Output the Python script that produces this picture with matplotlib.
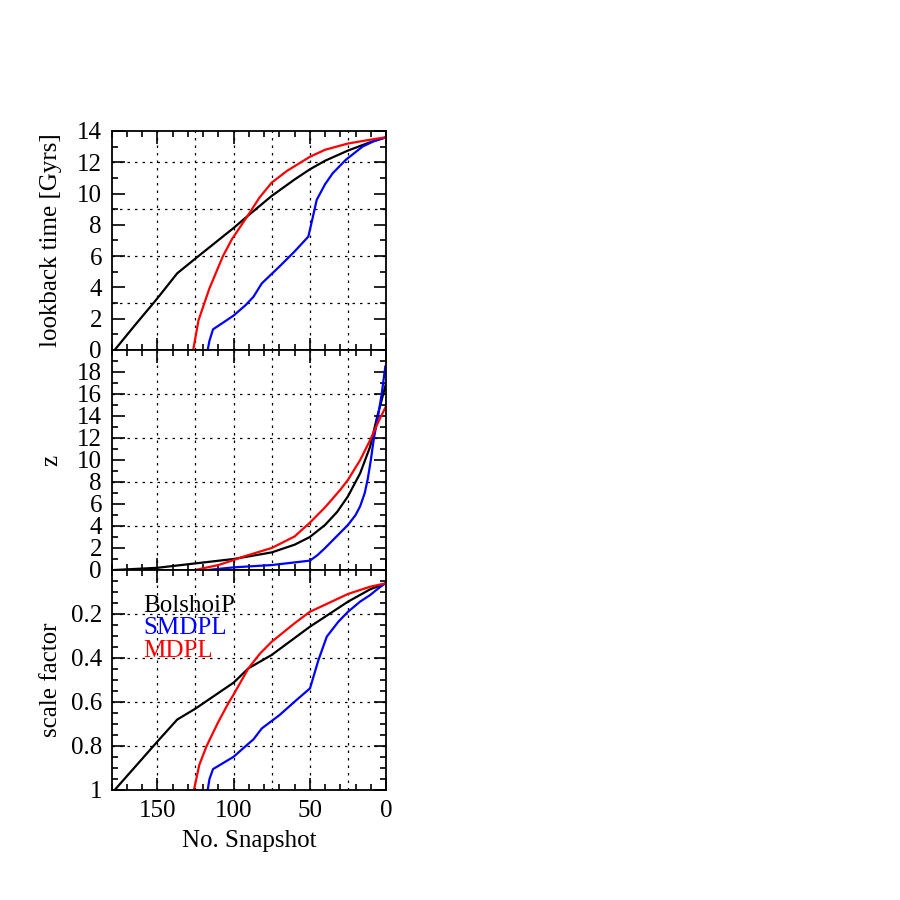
import numpy as np
import matplotlib
matplotlib.use('Agg')
import matplotlib.pyplot as plt
from matplotlib.ticker import MultipleLocator, FixedLocator, FuncFormatter

# ==================== Data ====================
# --- lookback time [Gyrs] vs snapshot number ---
bp_snap_t = [178, 165, 150, 137, 125, 100, 90.4, 75, 60, 50, 40, 25, 10, 0]
bp_tlb = [0, 1.55, 3.3, 4.9, 5.85, 7.8, 8.6, 9.85, 10.9, 11.55, 12.1, 12.75,
          13.3, 13.6]

smdpl_snap_t = [117, 115.8, 113.5, 100, 92, 87, 81.5, 70, 60, 51, 48.5, 45.5,
                40, 35, 26.5, 15.5, 8, 0]
smdpl_tlb = [0, 0.6, 1.32, 2.2, 2.88, 3.4, 4.26, 5.33, 6.3, 7.25, 8.3, 9.6,
             10.6, 11.3, 12.15, 13.0, 13.35, 13.6]

mdpl_snap_t = [126.5, 123, 116, 107, 101, 90.4, 83, 75, 65, 50, 40, 25, 10, 0]
mdpl_tlb = [0, 1.9, 3.9, 6.0, 7.1, 8.63, 9.75, 10.7, 11.45, 12.35, 12.8, 13.2,
            13.45, 13.6]

# --- redshift z vs snapshot number ---
bp_snap_z = [178, 150, 125, 100, 75, 60, 50, 40, 32, 25, 17, 10.5, 6.1, 3, 0]
bp_z = [0, 0.2, 0.6, 1.0, 1.6, 2.3, 3.0, 4.1, 5.3, 6.7, 8.8, 11.2, 13.8,
        15.4, 17.0]

smdpl_snap_z = [117, 100, 75, 50, 45, 40, 35, 30, 25, 20, 17, 14, 12, 10, 8,
                5.5, 3, 0.5]
smdpl_z = [0, 0.24, 0.45, 0.85, 1.35, 2.0, 2.7, 3.4, 4.1, 5.0, 5.8, 7.0, 8.3,
           10.0, 12.0, 13.8, 15.9, 18.5]

mdpl_snap_z = [125.3, 110, 100, 94, 75, 60, 50, 40, 30, 25, 17, 10.5, 5, 0]
mdpl_z = [0, 0.45, 0.9, 1.2, 2.0, 3.05, 4.3, 5.7, 7.3, 8.2, 10.0, 11.8, 13.5,
          14.9]

# --- scale factor vs snapshot number ---
bp_snap_a = [178, 165, 150, 137, 125, 100, 90.3, 75, 50, 25, 10.5, 0]
bp_a = [1.0, 0.898, 0.78, 0.68, 0.63, 0.512, 0.447, 0.386, 0.258, 0.144,
        0.088, 0.06]

smdpl_snap_a = [117, 115.8, 113.5, 100, 92, 87, 81.5, 70, 58.6, 49.9, 44.4,
                38.9, 31.3, 25, 17.1, 10.5, 5, 0]
smdpl_a = [1.0, 0.95, 0.905, 0.849, 0.80, 0.77, 0.72, 0.66, 0.59, 0.538,
           0.41, 0.303, 0.235, 0.19, 0.144, 0.114, 0.083, 0.058]

mdpl_snap_a = [126, 122.5, 117.7, 110, 103, 100, 90.3, 82.7, 75, 60, 50, 25,
               10.5, 0]
mdpl_a = [1.0, 0.886, 0.8, 0.69, 0.6, 0.566, 0.447, 0.38, 0.326, 0.242, 0.19,
          0.109, 0.076, 0.06]

SIM_NAMES = ['BolshoiP', 'SMDPL', 'MDPL']
SIM_COLORS = ['black', '#0000ff', '#ff0000']

plt.rcParams['font.family'] = ['Liberation Serif', 'DejaVu Serif']
plt.rcParams['font.size'] = 18


def style_axis(ax, ymajor, yminor, ygrid):
    ax.set_xlim(180, 0)
    ax.xaxis.set_major_locator(MultipleLocator(50))
    ax.xaxis.set_minor_locator(MultipleLocator(10))
    ax.yaxis.set_major_locator(MultipleLocator(ymajor))
    ax.yaxis.set_minor_locator(MultipleLocator(yminor))
    ax.tick_params(which='both', direction='in', top=True, right=True,
                   width=1.2, labelsize=18, pad=7)
    ax.tick_params(which='major', length=9)
    ax.tick_params(which='minor', length=4.5)
    for sp in ax.spines.values():
        sp.set_linewidth(1.3)
    for gx in [150, 125, 100, 75, 50, 25]:
        ax.axvline(gx, color='black', lw=0.9, ls=(0, (2, 4)), zorder=0)
    for gy in ygrid:
        ax.axhline(gy, color='black', lw=0.9, ls=(0, (2, 4)), zorder=0)


fig = plt.figure(figsize=(9, 9), dpi=100)
left, width = 0.124, 0.305
ax_t = fig.add_axes([left, 1 - 350 / 900, width, 219 / 900])
ax_z = fig.add_axes([left, 1 - 570 / 900, width, 220 / 900], sharex=ax_t)
ax_a = fig.add_axes([left, 1 - 790 / 900, width, 220 / 900], sharex=ax_t)

# --- 1) lookback time ---
style_axis(ax_t, 2, 1, [3, 6, 9, 12])
ax_t.set_ylim(0, 14)
for xs, ys, c in zip([bp_snap_t, smdpl_snap_t, mdpl_snap_t],
                     [bp_tlb, smdpl_tlb, mdpl_tlb], SIM_COLORS):
    ax_t.plot(xs, ys, color=c, lw=1.6)
ax_t.set_ylabel('lookback time [Gyrs]')
ax_t.tick_params(labelbottom=False)

# --- 2) redshift ---
style_axis(ax_z, 2, 1, [4, 8, 12, 16])
ax_z.set_ylim(0, 20)
ax_z.yaxis.set_major_locator(FixedLocator(np.arange(0, 19, 2)))
for xs, ys, c in zip([bp_snap_z, smdpl_snap_z, mdpl_snap_z],
                     [bp_z, smdpl_z, mdpl_z], SIM_COLORS):
    ax_z.plot(xs, ys, color=c, lw=1.6)
ax_z.set_ylabel('z')
ax_z.tick_params(labelbottom=False)

# --- 3) scale factor ---
style_axis(ax_a, 0.2, 0.05, [0.2, 0.4, 0.6, 0.8])
ax_a.set_ylim(1, 0)
ax_a.yaxis.set_major_locator(FixedLocator([0.2, 0.4, 0.6, 0.8, 1.0]))
ax_a.yaxis.set_major_formatter(FuncFormatter(lambda v, p: f'{v:g}'))
for xs, ys, c in zip([bp_snap_a, smdpl_snap_a, mdpl_snap_a],
                     [bp_a, smdpl_a, mdpl_a], SIM_COLORS):
    ax_a.plot(xs, ys, color=c, lw=1.6)
ax_a.set_ylabel('scale factor')
ax_a.set_xlabel('No. Snapshot', labelpad=6)

# legend as coloured text
for i, (name, c) in enumerate(zip(SIM_NAMES, SIM_COLORS)):
    ax_a.text(0.114, 0.838 - i * 0.102, name, color=c, fontsize=18,
              transform=ax_a.transAxes, ha='left', va='center')

for ax in (ax_t, ax_z, ax_a):
    ax.yaxis.set_label_coords(-0.18, 0.5)

fig.savefig('out.png', dpi=100)
